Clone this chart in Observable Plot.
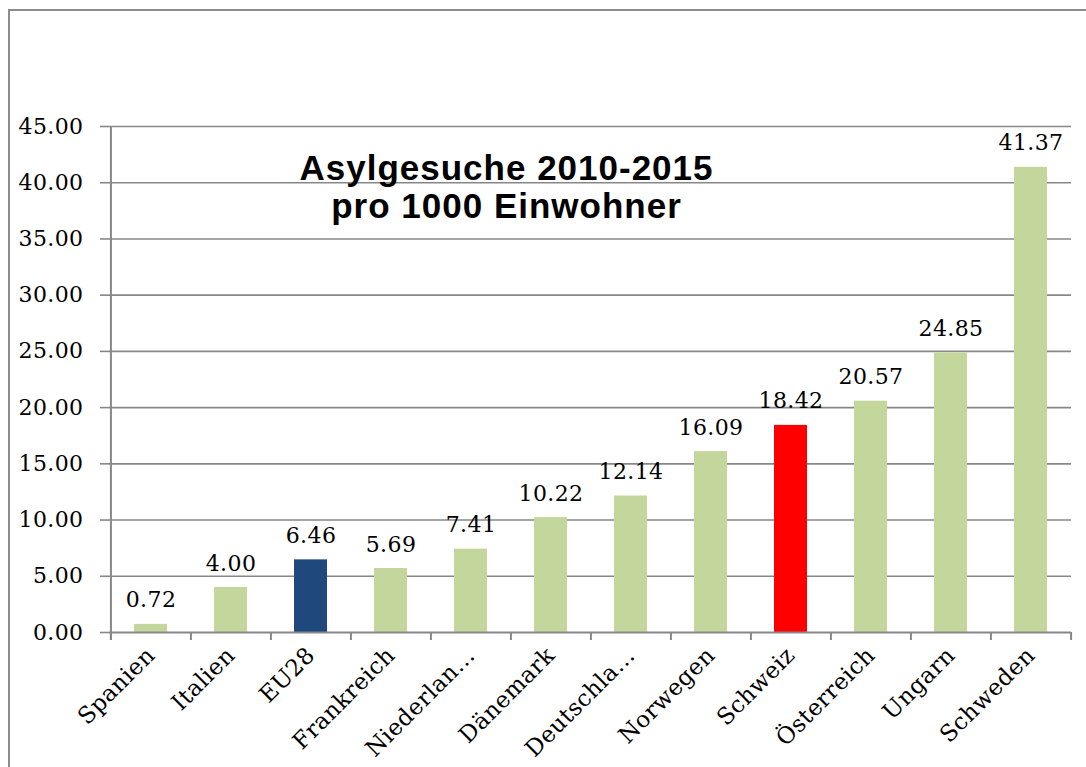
<!DOCTYPE html>
<html><head><meta charset="utf-8">
<script src="https://cdn.jsdelivr.net/npm/d3@7"></script>
<script src="https://cdn.jsdelivr.net/npm/@observablehq/plot@0.6"></script>
<style>
html,body{margin:0;padding:0;background:#fff;overflow:hidden;}
#wrap{position:relative;width:1086px;height:767px;overflow:hidden;}
#border{position:absolute;left:8px;top:9px;width:1200px;height:900px;border:2px solid #8c8c8c;box-sizing:border-box;pointer-events:none;}
#chart{position:absolute;left:0;top:0;}
#chart g[font-weight="bold"] text{letter-spacing:1px;}
#chart svg text{letter-spacing:0.4px;}
</style></head><body><div id="wrap"><div id="chart"></div><div id="border"></div></div>
<script>
const categories = ["Spanien","Italien","EU28","Frankreich","Niederlan…","Dänemark","Deutschla…","Norwegen","Schweiz","Österreich","Ungarn","Schweden"];
const values = [0.72, 4.00, 6.46, 5.69, 7.41, 10.22, 12.14, 16.09, 18.42, 20.57, 24.85, 41.37];
const groups = ["Land","Land","EU","Land","Land","Land","Land","Land","Schweiz","Land","Land","Land"];
const yTicks = [0, 5, 10, 15, 20, 25, 30, 35, 40, 45];
const titleLines = ["Asylgesuche 2010-2015", "pro 1000 Einwohner"];

const data = categories.map((c, i) => ({cat: c, value: values[i], group: groups[i]}));

const W = 1086, H = 767, ML = 109, MR = 15, MT = 126, MB = 135;
const step = (W - ML - MR) / categories.length;
const gray = "#878787";
const serif = "'DejaVu Serif', 'Liberation Serif', serif";
const fs = 22;

const chart = Plot.plot({
  width: W, height: H,
  marginLeft: ML, marginRight: MR, marginTop: MT, marginBottom: MB,
  style: {fontFamily: serif, fontSize: fs + "px", color: "#000", background: "transparent"},
  x: {domain: categories, paddingInner: 0.59, paddingOuter: 0.295, label: null},
  y: {domain: [0, 45], label: null},
  color: {domain: ["Land", "EU", "Schweiz"], range: ["#C3D69B", "#1F497D", "#FF0000"]},
  marks: [
    Plot.ruleY(yTicks.slice(1), {stroke: gray, strokeWidth: 1.6}),
    Plot.barY(data, {x: "cat", y: "value", fill: "group"}),
    Plot.ruleY([0], {stroke: gray, strokeWidth: 2}),
    Plot.ruleX(categories, {x: d => d, y1: 0, y2: 0, insetBottom: -8, dx: -step / 2, stroke: gray, strokeWidth: 2}),
    Plot.ruleX([categories[categories.length - 1]], {x: d => d, y1: 0, y2: 0, insetBottom: -8, dx: step / 2, stroke: gray, strokeWidth: 2}),
    Plot.ruleX([categories[0]], {x: d => d, y1: 45, y2: 0, insetBottom: -8, dx: -step / 2, stroke: gray, strokeWidth: 2}),
    Plot.axisY({ticks: yTicks, tickSize: 9, tickPadding: 17, tickFormat: d3.format(".2f"), stroke: gray, strokeWidth: 1.6, label: null, fontSize: fs}),
    Plot.axisX({tickSize: 0, tickRotate: -45, tickPadding: 19, label: null, fontSize: fs + 1}),
    Plot.text(data, {x: "cat", y: "value", text: d => d3.format(".2f")(d.value), lineAnchor: "bottom", dy: -17, fontSize: fs}),
    Plot.text([titleLines.join("\n")], {frameAnchor: "top", dx: -84, dy: 27, lineAnchor: "top", fontSize: 35, fontWeight: "bold", fontFamily: "'Liberation Sans', Arial, sans-serif", lineHeight: 1.08})
  ]
});
document.getElementById("chart").appendChild(chart);
</script>
</body></html>
